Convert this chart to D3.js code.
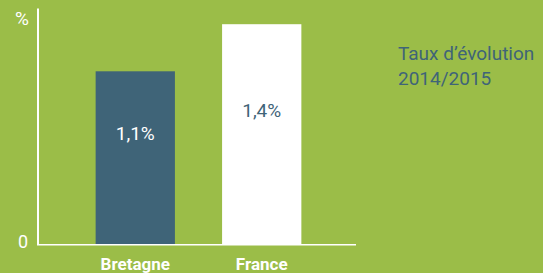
<!DOCTYPE html>
<html>
<head>
<meta charset="utf-8">
<script src="https://cdn.jsdelivr.net/npm/d3@7"></script>
<style>
  html, body { margin: 0; padding: 0; background: #9bbd48; }
  svg { display: block; font-family: Roboto, "Open Sans", sans-serif; }
</style>
</head>
<body>
<div id="chart"></div>
<script>
// data
const categories = ['Bretagne', 'France'];
const values = [1.1, 1.4];
const valueLabels = ['1,1%', '1,4%'];
const yTickLabels = ['0', '%'];
const legendLines = ['Taux d\u2019évolution', '2014/2015'];

const W = 543, H = 273;
const bg = '#9bbd48', blue = '#3f6478', white = '#ffffff';
const barColors = [blue, white];
const labelColors = [white, blue];

const svg = d3.select('#chart').append('svg')
  .attr('width', W)
  .attr('height', H);

svg.append('rect').attr('width', W).attr('height', H).attr('fill', bg);

const x = d3.scaleBand()
  .domain(categories)
  .range([40, 357])
  .paddingInner(0.373)
  .paddingOuter(0.44);

const y = d3.scaleLinear()
  .domain([0, 1.5])
  .range([244, 8.5]);

// vertical axis line
svg.append('line')
  .attr('x1', 38).attr('x2', 38)
  .attr('y1', y(1.5)).attr('y2', y(0) + 1)
  .attr('stroke', white).attr('stroke-width', 2);

// bars
svg.selectAll('rect.bar')
  .data(values)
  .join('rect')
  .attr('class', 'bar')
  .attr('x', (d, i) => x(categories[i]))
  .attr('width', x.bandwidth())
  .attr('y', d => y(d))
  .attr('height', d => y(0) - y(d))
  .attr('fill', (d, i) => barColors[i]);

// baseline
svg.append('line')
  .attr('x1', 37).attr('x2', 356)
  .attr('y1', y(0) + 0.8).attr('y2', y(0) + 0.8)
  .attr('stroke', white).attr('stroke-width', 1.6);

// value labels
svg.selectAll('text.val')
  .data(values)
  .join('text')
  .attr('class', 'val')
  .attr('x', (d, i) => x(categories[i]) + x.bandwidth() / 2)
  .attr('y', (d, i) => y(d) + (i === 0 ? 69 : 93))
  .attr('text-anchor', 'middle')
  .attr('font-size', 19)
  .attr('fill', (d, i) => labelColors[i])
  .text((d, i) => valueLabels[i]);

// category labels
svg.selectAll('text.cat')
  .data(categories)
  .join('text')
  .attr('class', 'cat')
  .attr('x', d => x(d) + x.bandwidth() / 2)
  .attr('y', 270)
  .attr('text-anchor', 'middle')
  .attr('font-size', 17)
  .attr('font-weight', 'bold')
  .attr('fill', white)
  .text(d => d);

// y labels
svg.append('text')
  .attr('x', 28).attr('y', 248)
  .attr('text-anchor', 'end')
  .attr('font-size', 18)
  .attr('fill', white)
  .text(yTickLabels[0]);

svg.append('text')
  .attr('x', 29).attr('y', 25)
  .attr('text-anchor', 'end')
  .attr('font-size', 19)
  .attr('fill', white)
  .text(yTickLabels[1]);

// legend text
svg.selectAll('text.leg')
  .data(legendLines)
  .join('text')
  .attr('class', 'leg')
  .attr('x', 398)
  .attr('y', (d, i) => 60 + i * 25)
  .attr('font-size', 19)
  .attr('fill', blue)
  .text(d => d);
</script>
</body>
</html>
